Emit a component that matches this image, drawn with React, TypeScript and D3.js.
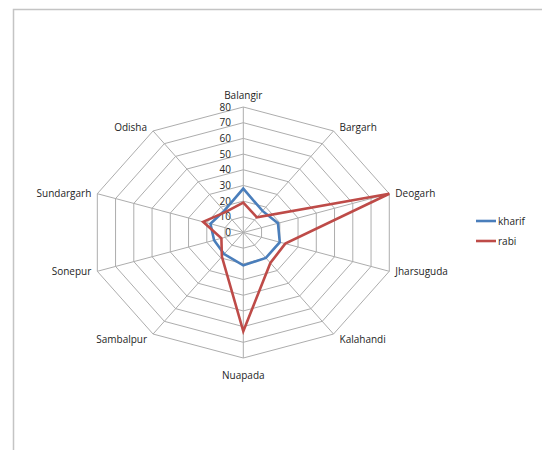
import React from "react";
import * as d3 from "d3";

const categories = ["Balangir", "Bargarh", "Deogarh", "Jharsuguda", "Kalahandi", "Nuapada", "Sambalpur", "Sonepur", "Sundargarh", "Odisha"];
const kharif = [28, 17, 19, 20, 20, 21, 17, 16, 18, 17];
const rabi = [19, 12, 80, 23, 24, 63, 19, 12, 22, 16];
const ticks = [0, 10, 20, 30, 40, 50, 60, 70, 80];
const seriesNames = ["kharif", "rabi"];

const W = 542, H = 450;
const CX = 243.3, CY = 232.5, RX = 153.5, RY = 125.5;
const BLUE = "#4a7ebb", RED = "#be4b48";
const FONT = "'Open Sans', 'Liberation Sans', sans-serif";

export default function App() {
  const r = d3.scaleLinear().domain([0, 80]).range([0, 1]);
  const ang = d3.scaleLinear().domain([0, categories.length]).range([0, 2 * Math.PI]);
  const pt = (v: number, i: number): [number, number] => {
    const a = ang(i);
    return [CX + r(v) * RX * Math.sin(a), CY - r(v) * RY * Math.cos(a)];
  };
  const line = d3.line<[number, number]>().curve(d3.curveLinearClosed);
  const ring = (v: number) => line(categories.map((_, i) => pt(v, i))) as string;
  const series = [
    { name: seriesNames[0], values: kharif, color: BLUE },
    { name: seriesNames[1], values: rabi, color: RED },
  ];

  const labelPos = (i: number) => {
    const [x, y] = pt(80, i);
    const a = ang(i);
    const s = Math.sin(a), c = Math.cos(a);
    let anchor: "start" | "middle" | "end" = "middle";
    if (s > 0.1) anchor = "start";
    else if (s < -0.1) anchor = "end";
    const dx = anchor === "middle" ? 0 : anchor === "start" ? 6 : -6;
    let dy = 0;
    if (Math.abs(s) < 0.1) dy = c > 0 ? -12 : 17;
    else dy = c > 0.5 ? -3 : c < -0.5 ? 5 : 0;
    return { x: x + dx, y: y + dy, anchor };
  };

  return (
    <svg width={W} height={H} style={{ position: "absolute", left: 0, top: 0, background: "#fff" }}>
      <rect x={0} y={0} width={W} height={H} fill="#fff" />
      <path d={`M13.5,${H} L13.5,9.5 L${W},9.5`} fill="none" stroke="#c4c4c4" strokeWidth={1.5} />
      {ticks.slice(1).map((t) => (
        <path key={"r" + t} d={ring(t)} fill="none" stroke="#adadad" strokeWidth={1} />
      ))}
      {categories.map((c, i) => {
        const [x, y] = pt(80, i);
        return <line key={"s" + c} x1={CX} y1={CY} x2={x} y2={y} stroke="#adadad" strokeWidth={1} />;
      })}
      {ticks.map((t) => (
        <text key={"t" + t} x={231} y={CY - r(t) * RY} dy="0.35em" textAnchor="end" fontFamily={FONT} fontSize={10} fill="#1e1e1e">
          {t}
        </text>
      ))}
      {series.map((s) => (
        <path key={s.name} d={line(s.values.map((v, i) => pt(v, i))) as string} fill="none" stroke={s.color} strokeWidth={2.6} strokeLinejoin="miter" />
      ))}
      {categories.map((c, i) => {
        const p = labelPos(i);
        return (
          <text key={"l" + c} x={p.x} y={p.y} dy="0.35em" textAnchor={p.anchor} fontFamily={FONT} fontSize={10} fill="#1e1e1e">
            {c}
          </text>
        );
      })}
      {series.map((s, k) => (
        <g key={"lg" + s.name} transform={`translate(476,${221 + k * 20})`}>
          <line x1={0} x2={20} y1={0} y2={0} stroke={s.color} strokeWidth={2.6} />
          <text x={22} y={0} dy="0.35em" fontFamily={FONT} fontSize={10} fill="#1e1e1e">
            {s.name}
          </text>
        </g>
      ))}
    </svg>
  );
}
